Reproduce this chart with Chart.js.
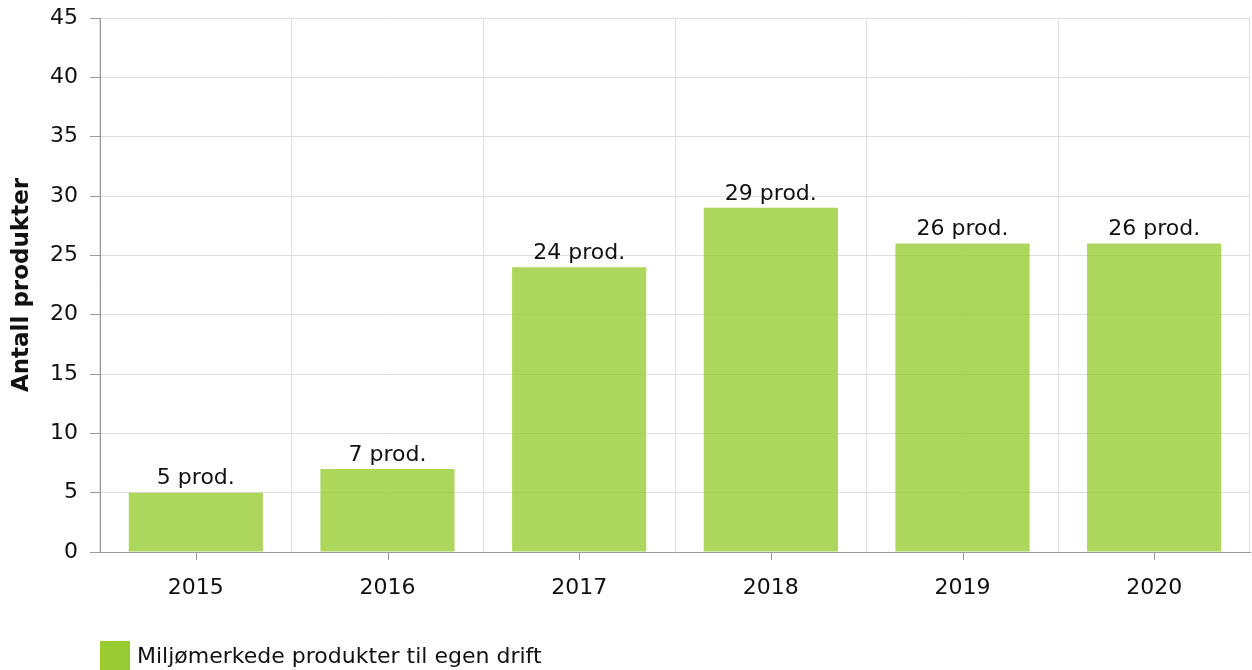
<!DOCTYPE html>
<html>
<head>
<meta charset="utf-8">
<script src="https://cdn.jsdelivr.net/npm/chart.js@4"></script>
<style>
  html, body { margin: 0; padding: 0; background: #fff; }
  #wrap { position: relative; width: 1252px; height: 670px; }
  #legend { position: absolute; left: 100px; top: 641px; display: flex; align-items: center;
            font-family: Verdana, "DejaVu Sans", sans-serif; font-size: 22px; color: #111; }
  #legend .box { width: 30px; height: 29px; background: #99cc33; margin-right: 7px; }
</style>
</head>
<body>
<div id="wrap">
  <canvas id="chart" width="1252" height="670"></canvas>
  <div id="legend"><span class="box"></span><span id="legend-text"></span></div>
</div>
<script>
// Data
const years = ['2015', '2016', '2017', '2018', '2019', '2020'];
const products = [5, 7, 24, 29, 26, 26];
const yTicks = [0, 5, 10, 15, 20, 25, 30, 35, 40, 45];
const seriesLabel = 'Miljømerkede produkter til egen drift';
const axisTitle = 'Antall produkter';

const FONT = 'Verdana, "DejaVu Sans", sans-serif';
Chart.defaults.font.family = FONT;
Chart.defaults.color = '#111';

document.getElementById('legend-text').textContent = seriesLabel;

// value labels above bars ("5 prod.")
const barLabels = {
  id: 'barLabels',
  afterDatasetsDraw(chart) {
    const ctx = chart.ctx;
    const meta = chart.getDatasetMeta(0);
    ctx.save();
    ctx.font = '22px ' + FONT;
    ctx.fillStyle = '#111';
    ctx.textAlign = 'center';
    ctx.textBaseline = 'bottom';
    meta.data.forEach((bar, i) => {
      ctx.fillText(products[i] + ' prod.', bar.x, bar.y - 3);
    });
    ctx.restore();
  }
};

// small tick marks under the x axis at category centres
const xTickMarks = {
  id: 'xTickMarks',
  afterDraw(chart) {
    const x = chart.scales.x;
    const ctx = chart.ctx;
    ctx.save();
    ctx.strokeStyle = '#999';
    ctx.lineWidth = 1;
    years.forEach((_, i) => {
      const px = Math.round(x.getPixelForValue(i)) + 0.5;
      ctx.beginPath();
      ctx.moveTo(px, x.top);
      ctx.lineTo(px, x.top + 8);
      ctx.stroke();
    });
    ctx.restore();
  }
};

new Chart(document.getElementById('chart'), {
  type: 'bar',
  data: {
    labels: years,
    datasets: [{
      label: seriesLabel,
      data: products,
      backgroundColor: 'rgba(153, 204, 51, 0.8)',
      borderWidth: 0,
      barPercentage: 0.7,
      categoryPercentage: 1
    }]
  },
  options: {
    responsive: false,
    animation: false,
    layout: { padding: { top: 18, right: 2, left: 0, bottom: 0 } },
    plugins: {
      legend: { display: false },
      tooltip: { enabled: false }
    },
    scales: {
      x: {
        offset: true,
        grid: { offset: true, color: '#dedede', drawTicks: false },
        border: { color: '#999' },
        ticks: { font: { size: 22 }, color: '#111', padding: 23, maxRotation: 0 },
        afterFit(s) { s.height = 118; s.paddingLeft = 0; s.paddingRight = 0; }
      },
      y: {
        min: 0,
        max: 45,
        afterBuildTicks(s) { s.ticks = yTicks.map(v => ({ value: v })); },
        grid: { color: '#dedede', tickLength: 10, tickColor: '#999' },
        border: { color: '#999' },
        ticks: { font: { size: 22 }, color: '#111', padding: 12 },
        title: {
          display: true,
          text: axisTitle,
          font: { size: 23, weight: 'bold' },
          color: '#111',
          padding: { top: 8, bottom: 0 }
        },
        afterFit(s) { s.width = 100; s.paddingTop = 0; s.paddingBottom = 0; }
      }
    }
  },
  plugins: [barLabels, xTickMarks]
});
</script>
</body>
</html>
